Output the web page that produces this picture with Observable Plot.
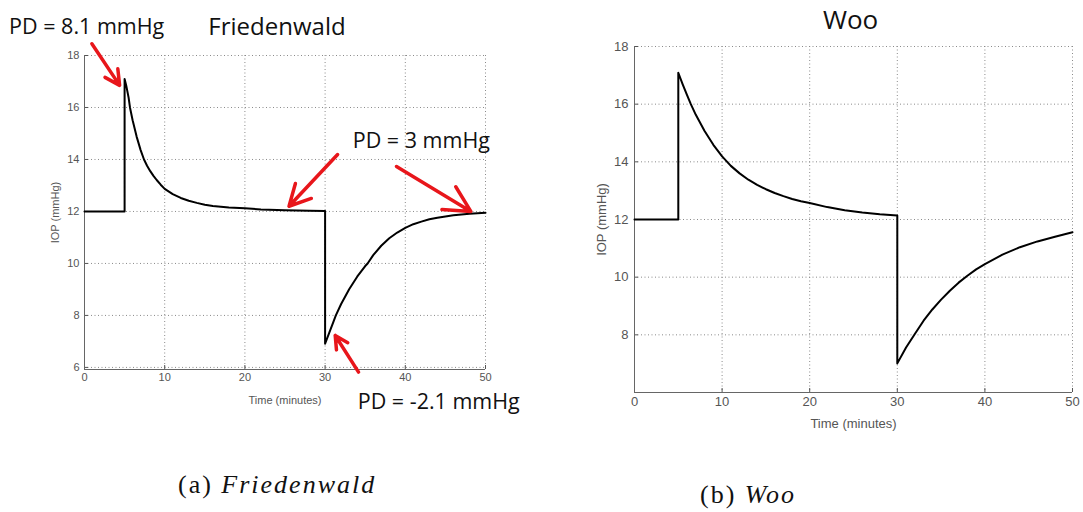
<!DOCTYPE html>
<html><head><meta charset="utf-8">
<script src="https://cdn.jsdelivr.net/npm/d3@7"></script>
<script src="https://cdn.jsdelivr.net/npm/@observablehq/plot@0.6"></script>
<style>
body{margin:0;background:#fff;}
#wrap{position:relative;width:1083px;height:512px;overflow:hidden;background:#fff;}
.panel{position:absolute;top:0;}
.cap{position:absolute;font-family:"Liberation Serif","Times New Roman",serif;font-size:26px;line-height:1;color:#111;white-space:nowrap;letter-spacing:2px;}
.cap i{font-style:italic;}
</style></head><body>
<div id="wrap">
 <div id="left" class="panel" style="left:0"></div>
 <div id="right" class="panel" style="left:560px"></div>
 <div class="cap" style="left:178px;top:472px">(a) <i>Friedenwald</i></div>
 <div class="cap" style="left:700px;top:482px">(b) <i>Woo</i></div>
</div>
<script>
// ---- data ----
const xTicks = [0, 10, 20, 30, 40, 50];
const yTicksLeft = [6, 8, 10, 12, 14, 16, 18];
const yTicksRight = [8, 10, 12, 14, 16, 18];

const friedTime = [0,5,5,5.2,5.5,5.67,6,6.5,7,7.42,7.8,8.2,8.6,9,9.5,10,11,12,13,14,15,16,18,20,22,25,28,30,30,30.5,31,31.34,32,33,34,35,35.3,36,37,38,39,40,41,42,43,44,45,46,47,48,49,50];
const friedIOP = [12,12,17.1,16.85,16.38,16.0,15.51,14.88,14.36,14.0,13.76,13.55,13.37,13.21,13.03,12.87,12.67,12.52,12.41,12.33,12.26,12.21,12.15,12.12,12.08,12.05,12.03,12.02,6.91,7.32,7.72,8.0,8.44,9.01,9.49,9.90,10.0,10.32,10.68,10.97,11.19,11.37,11.51,11.61,11.70,11.76,11.81,11.85,11.88,11.91,11.93,11.95];

const wooTime = [0,5,5,5.5,6,6.43,7,8,9,10,11,12,13,14,15,16,17,18,19,20,22,24,26,28,30,30,31,32,33,34,35,36,37,38,39,40,42,44,46,48,50];
const wooIOP = [12,12,17.09,16.69,16.31,16.0,15.63,15.07,14.59,14.19,13.86,13.60,13.38,13.20,13.05,12.92,12.81,12.71,12.63,12.57,12.43,12.32,12.24,12.18,12.14,7.01,7.56,8.03,8.49,8.88,9.22,9.53,9.81,10.05,10.27,10.45,10.78,11.04,11.24,11.40,11.56];

const pdTexts = ["PD = 8.1 mmHg", "PD = 3 mmHg", "PD = -2.1 mmHg"];
const pdTextX = [0.27, 42.0, 44.17];
const pdTextY = [19.08, 14.69, 4.68];

const leftTitle = ["Friedenwald"];
const leftTitleX = [24.0];
const leftTitleY = [19.08];

const arrowX1 = [0.92, 31.56, 38.9, 34.17];
const arrowY1 = [18.45, 14.19, 13.73, 5.82];
const arrowX2 = [4.38, 25.5, 48.17, 31.26];
const arrowY2 = [16.85, 12.20, 12.0, 7.23];

const rightTitle = ["Woo"];
const rightTitleX = [24.66];
const rightTitleY = [18.9];

// ---- tables ----
const fried = friedTime.map((t, i) => ({t, v: friedIOP[i]}));
const woo = wooTime.map((t, i) => ({t, v: wooIOP[i]}));
const pdAnn = pdTexts.map((s, i) => ({s, x: pdTextX[i], y: pdTextY[i]}));
const lTitle = leftTitle.map((s, i) => ({s, x: leftTitleX[i], y: leftTitleY[i]}));
const arrows = arrowX1.map((x1, i) => ({x1, y1: arrowY1[i], x2: arrowX2[i], y2: arrowY2[i]}));
const rTitle = rightTitle.map((s, i) => ({s, x: rightTitleX[i], y: rightTitleY[i]}));

const gridStyle = {stroke: "#8a8a8a", strokeOpacity: 1, strokeWidth: 1, strokeDasharray: "1,2.5"};
const axisFont = "Liberation Sans, Arial, Helvetica, sans-serif";
const annFont = "Open Sans, Noto Sans, sans-serif";

// ---- left panel ----
const L = {w: 540, h: 410, ml: 84, mr: 55, mt: 55, mb: 41};
const leftPlot = Plot.plot({
  width: L.w, height: L.h,
  marginLeft: L.ml, marginRight: L.mr, marginTop: L.mt, marginBottom: L.mb,
  style: {fontFamily: axisFont, fontSize: "11px", color: "#555", background: "transparent", overflow: "visible"},
  x: {domain: [0, 50]},
  y: {domain: [5.92, 18]},
  marks: [
    Plot.gridX(xTicks, gridStyle),
    Plot.gridY(yTicksLeft, gridStyle),
    Plot.axisX(xTicks, {tickSize: 0, tickPadding: 4, label: "Time (minutes)", labelAnchor: "center", labelArrow: "none", labelOffset: 34}),
    Plot.axisY(yTicksLeft, {tickSize: 0, tickPadding: 5, label: "IOP (mmHg)", labelAnchor: "center", labelArrow: "none", labelOffset: 33}),
    Plot.tickX(xTicks, {x: d => d, insetTop: (L.h - L.mt - L.mb) - 4, stroke: "#555"}),
    Plot.tickY(yTicksLeft, {y: d => d, insetRight: (L.w - L.ml - L.mr) - 4, stroke: "#555"}),
    Plot.ruleX([0], {stroke: "#666"}),
    Plot.ruleY([5.92], {stroke: "#666"}),
    Plot.line(fried, {x: "t", y: "v", stroke: "#000", strokeWidth: 2}),
    Plot.arrow(arrows, {x1: "x1", y1: "y1", x2: "x2", y2: "y2", stroke: "#e8161b", strokeWidth: 3.5, headLength: 14, headAngle: 55}),
    Plot.text(pdAnn, {x: "x", y: "y", text: "s", fontFamily: annFont, fontSize: 21.5, fill: "#111", textAnchor: "middle", lineAnchor: "middle"}),
    Plot.text(lTitle, {x: "x", y: "y", text: "s", fontFamily: annFont, fontSize: 24, fill: "#111", textAnchor: "middle", lineAnchor: "middle"})
  ]
});
document.getElementById("left").appendChild(leftPlot);

// ---- right panel ----
const R = {w: 523, h: 440, ml: 74, mr: 11, mt: 46, mb: 48};
const rightPlot = Plot.plot({
  width: R.w, height: R.h,
  marginLeft: R.ml, marginRight: R.mr, marginTop: R.mt, marginBottom: R.mb,
  style: {fontFamily: axisFont, fontSize: "13px", color: "#555", background: "transparent", overflow: "visible"},
  x: {domain: [0, 50]},
  y: {domain: [6, 18]},
  marks: [
    Plot.gridX(xTicks, gridStyle),
    Plot.gridY(yTicksRight, gridStyle),
    Plot.axisX(xTicks, {tickSize: 0, tickPadding: 4, label: "Time (minutes)", labelAnchor: "center", labelArrow: "none", labelOffset: 35}),
    Plot.axisY(yTicksRight, {tickSize: 0, tickPadding: 6, label: "IOP (mmHg)", labelAnchor: "center", labelArrow: "none", labelOffset: 38}),
    Plot.tickX(xTicks, {x: d => d, insetTop: (R.h - R.mt - R.mb) - 4, stroke: "#555"}),
    Plot.tickY(yTicksRight, {y: d => d, insetRight: (R.w - R.ml - R.mr) - 4, stroke: "#555"}),
    Plot.ruleX([0], {stroke: "#666"}),
    Plot.ruleY([6], {stroke: "#666"}),
    Plot.line(woo, {x: "t", y: "v", stroke: "#000", strokeWidth: 2}),
    Plot.text(rTitle, {x: "x", y: "y", text: "s", fontFamily: annFont, fontSize: 26, fill: "#111", textAnchor: "middle", lineAnchor: "middle"})
  ]
});
document.getElementById("right").appendChild(rightPlot);
</script>
</body></html>
